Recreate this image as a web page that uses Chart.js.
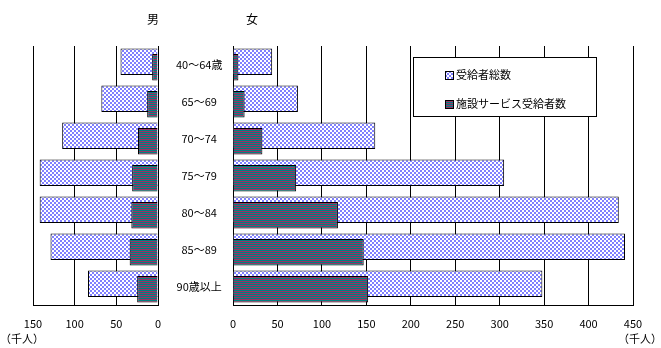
<!DOCTYPE html>
<html>
<head>
<meta charset="utf-8">
<script src="https://cdn.jsdelivr.net/npm/chart.js@4.4.0/dist/chart.umd.min.js"></script>
<style>
  body { margin: 0; background: #fff; }
  #wrap { position: relative; width: 661px; height: 348px; overflow: hidden;
          font-family: "Noto Sans CJK JP", sans-serif; color: #000; }
  #wrap > canvas { position: absolute; top: 0; }
  .txt { position: absolute; font-size: 11px; line-height: 12px; white-space: nowrap; }
  #legend { position: absolute; left: 413px; top: 57px; width: 182px; height: 58px;
            border: 1px solid #000; background: #fff; font-size: 11px; }
  #legend .item { position: absolute; left: 31px; height: 12px; line-height: 12px; white-space: nowrap; }
  #legend canvas { width: 9px; height: 9px; vertical-align: -1px; margin-right: 2px; }
</style>
</head>
<body>
<div id="wrap">
  <canvas id="male" width="233" height="348" style="left:0"></canvas>
  <canvas id="female" width="443" height="348" style="left:218px"></canvas>
  <div class="txt" style="left:147px;top:13px;font-size:12px">男</div>
  <div class="txt" style="left:246px;top:13px;font-size:12px">女</div>
  <div class="txt" style="left:0px;top:332px">（千人）</div>
  <div class="txt" style="left:618px;top:332px">（千人）</div>
  <div id="legend">
    <div class="item" style="top:10px"><canvas id="lg1" width="9" height="9"></canvas>受給者総数</div>
    <div class="item" style="top:39px"><canvas id="lg2" width="9" height="9"></canvas>施設サービス受給者数</div>
  </div>
</div>
<script>
// 年齢階級別 受給者数（千人）
const ageGroups = ['40～64歳', '65～69', '70～74', '75～79', '80～84', '85～89', '90歳以上'];
const maleTotal = [45, 68, 115, 142, 142, 129, 84];
const maleFacility = [7, 13, 24, 31, 32, 34, 25];
const femaleTotal = [44, 73, 160, 305, 434, 441, 348];
const femaleFacility = [6, 13, 33, 71, 118, 147, 152];
const seriesNames = ['受給者総数', '施設サービス受給者数'];

// fill patterns
function checker() {
  const c = document.createElement('canvas');
  c.width = 4; c.height = 4;
  const g = c.getContext('2d');
  g.fillStyle = '#ffffff'; g.fillRect(0, 0, 4, 4);
  g.fillStyle = '#8080ff'; g.fillRect(0, 0, 2, 2); g.fillRect(2, 2, 2, 2);
  return g.createPattern(c, 'repeat');
}
function stripes() {
  const c = document.createElement('canvas');
  c.width = 2; c.height = 2;
  const g = c.getContext('2d');
  g.fillStyle = '#008080'; g.fillRect(0, 0, 2, 1);
  g.fillStyle = '#993366'; g.fillRect(0, 1, 2, 1);
  return g.createPattern(c, 'repeat');
}
// legend swatches
[['lg1', checker], ['lg2', stripes]].forEach(([id, fn]) => {
  const g = document.getElementById(id).getContext('2d');
  g.fillStyle = fn(); g.fillRect(0, 0, 9, 9);
  g.strokeStyle = '#000'; g.lineWidth = 1; g.strokeRect(0.5, 0.5, 8, 8);
});

Chart.defaults.font = { family: '"Noto Sans CJK JP", sans-serif', size: 11 };
Chart.defaults.color = '#000';

// the two series overlap a little, total above and facility below (facility drawn on top)
const shift = 0.075;
function makeDatasets(total, facility) {
  const bar = { borderColor: '#000', borderWidth: 1, grouped: false,
                categoryPercentage: 1, barPercentage: 10, maxBarThickness: 26.5 };
  return [
    { ...bar, label: seriesNames[0], order: 1, backgroundColor: checker(),
      data: total.map((v, i) => ({ x: v, y: i - shift })) },
    { ...bar, label: seriesNames[1], order: 0, backgroundColor: stripes(),
      data: facility.map((v, i) => ({ x: v, y: i + shift })) }
  ];
}

function yAxis(extra) {
  return {
    type: 'linear', reverse: true, bounds: 'data', offset: false,
    min: -0.5, max: ageGroups.length - 0.5,
    afterBuildTicks: s => { s.ticks = ageGroups.map((_, i) => ({ value: i })); },
    grid: { display: false },
    border: { color: '#000' },
    ...extra
  };
}

const common = {
  indexAxis: 'y',
  responsive: false,
  animation: false,
  plugins: { legend: { display: false }, tooltip: { enabled: false } }
};

new Chart(document.getElementById('male'), {
  type: 'bar',
  data: { datasets: makeDatasets(maleTotal, maleFacility) },
  options: {
    ...common,
    layout: { padding: { left: 33, right: 0, top: 46, bottom: 0 } },
    scales: {
      x: {
        reverse: true, min: 0, max: 150,
        ticks: { stepSize: 50, padding: 12 },
        grid: { color: '#000', drawTicks: false },
        border: { color: '#000' },
        afterFit: s => { s.height = 43; }
      },
      y: yAxis({
        position: 'right',
        ticks: { crossAlign: 'center', padding: 10, callback: v => ageGroups[v] },
        afterFit: s => { s.width = 75; }
      })
    }
  }
});

new Chart(document.getElementById('female'), {
  type: 'bar',
  data: { datasets: makeDatasets(femaleTotal, femaleFacility) },
  options: {
    ...common,
    layout: { padding: { left: 5, right: 28, top: 46, bottom: 0 } },
    scales: {
      x: {
        min: 0, max: 450,
        ticks: { stepSize: 50, padding: 12 },
        grid: { color: '#000', drawTicks: false },
        border: { color: '#000' },
        afterFit: s => { s.height = 43; }
      },
      y: yAxis({
        ticks: { display: false },
        afterFit: s => { s.width = 0; }
      })
    }
  }
});
</script>
</body>
</html>
